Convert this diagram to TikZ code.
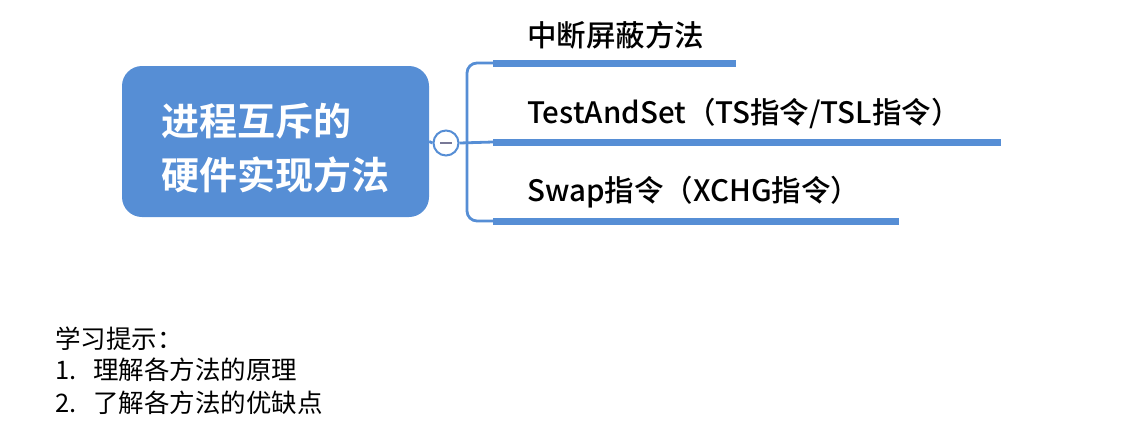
\documentclass[tikz,border=0pt]{standalone}
\usepackage{fontspec}
\usepackage{tikz}
\usetikzlibrary{positioning,calc}
\newfontfamily\cjk{Noto Sans CJK SC}[BoldFont={Noto Sans CJK SC Bold}]
\newfontfamily\cjkmed{Noto Sans CJK SC Medium}
\usepackage{xcolor}
\definecolor{mapblue}{RGB}{86,142,213}
\definecolor{minusgray}{RGB}{120,120,150}
\tikzset{
  root/.style={rectangle,rounded corners=20pt,fill=mapblue,
               minimum width=307pt,minimum height=151pt,inner sep=0pt},
  roottxt/.style={text=white,align=left,inner sep=0pt,
               font=\cjk\bfseries\fontsize{38}{54}\selectfont},
  tog/.style={circle,draw=mapblue,line width=2pt,fill=white,
              minimum size=25pt,inner sep=0pt},
  bar/.style={rectangle,fill=mapblue,minimum height=7pt,inner sep=0pt,anchor=west},
  ge/.style={mapblue,line width=2.8pt},
  lbl/.style={anchor=west,inner sep=0pt,font=\cjkmed\fontsize{29.5}{34}\selectfont},
  tip/.style={anchor=west,inner sep=0pt,font=\cjk\fontsize{25.5}{30}\selectfont},
}
\begin{document}
\begin{tikzpicture}[x=1pt,y=-1pt]
  \useasboundingbox (0,0) rectangle (1132,437);
  % root topic
  \node[root] (r) at (275.5,141.5) {};
  \node[roottxt] (rt) at ($(r.center)+(0,7)$) {进程互斥的\\硬件实现方法};
  \node[tog] (t) at (446,143) {};
  \draw[minusgray,line width=1.5pt] ($(t.center)+(-6,0)$) -- ($(t.center)+(6,0)$);
  % branch bars
  \node[bar,minimum width=243pt] (b1) at (493,63) {};
  \node[bar,minimum width=508pt] (b2) at (493,142) {};
  \node[bar,minimum width=406pt] (b3) at (493,221) {};
  \node[lbl] (l1) at (527,35) {中断屏蔽方法};
  \node[lbl] (l2) at (527,113) {TestAndSet（TS指令/TSL指令）};
  \node[lbl] (l3) at (527,192) {Swap指令（XCHG指令）};
  % connectors
  \coordinate (fk) at (467,143);
  \draw[ge] (r.east) -- (t.west);
  \draw[ge] (t.east) -- (b2.west);
  \draw[ge,rounded corners=10pt] (fk) |- (b1.west);
  \draw[ge,rounded corners=10pt] (fk) |- (b3.west);
  % study hints
  \node[tip] (h0) at (55,339) {学习提示：};
  \node[tip] (h1) at (55,370) {1.\hspace{17pt}理解各方法的原理};
  \node[tip] (h2) at (55,403) {2.\hspace{17pt}了解各方法的优缺点};
\end{tikzpicture}
\end{document}
